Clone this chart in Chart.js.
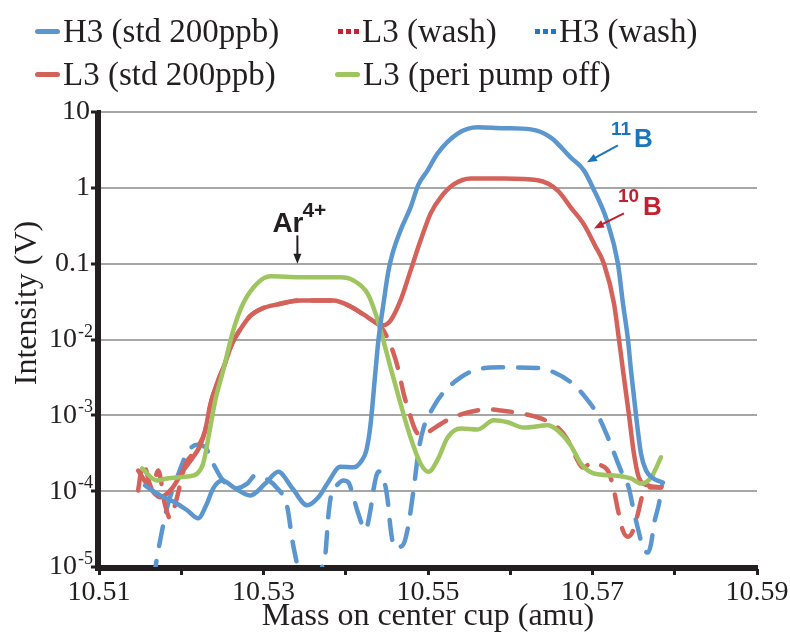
<!DOCTYPE html>
<html>
<head>
<meta charset="utf-8">
<script src="https://cdn.jsdelivr.net/npm/chart.js@4.4.1/dist/chart.umd.min.js"></script>
<style>
    html, body { margin: 0; padding: 0; background: #fff; }
    #wrap { position: relative; width: 790px; height: 635px; }
    #chart { position: absolute; left: 0; top: 0; }
    .leg { position: absolute; display: flex; align-items: center; height: 36px; white-space: nowrap;
           font-family: "Liberation Serif", serif; font-size: 33px; color: #231f20; }
    .leg .sw { width: 25px; height: 5px; border-radius: 3px; margin-right: 3px; }
</style>
</head>
<body>
<div id="wrap">
    <canvas id="chart" width="790" height="635"></canvas>
    <div id="legend"></div>
</div>
<script>
// Axes
const X_TICKS = [10.51, 10.52, 10.53, 10.54, 10.55, 10.56, 10.57, 10.58, 10.59];
const X_TICK_LABELS = ['10.51', '', '10.53', '', '10.55', '', '10.57', '', '10.59'];
const Y_TICKS = [10, 1, 0.1, 0.01, 0.001, 0.0001, 0.00001];
const Y_TICK_BASE = ['10', '1', '0.1', '10', '10', '10', '10'];
const Y_TICK_EXP = ['', '', '', '-2', '-3', '-4', '-5'];

// H3 (std 200ppb)
const H3_STD_MASS = [10.5156, 10.51743, 10.51926, 10.52072, 10.52206, 10.52303, 10.52389, 10.52498, 10.52656, 10.52839,
    10.53022, 10.5318, 10.53351, 10.53533, 10.53667, 10.53777, 10.53935, 10.54094, 10.54191, 10.54252,
    10.54301, 10.54362, 10.54398, 10.54459, 10.5452, 10.54569, 10.54666, 10.54788, 10.54885, 10.54995,
    10.55117, 10.55361, 10.55604, 10.55921, 10.5625, 10.56494, 10.56737, 10.56895, 10.57005, 10.57175,
    10.57309, 10.5737, 10.57431, 10.57468, 10.57529, 10.5759, 10.57651, 10.5774, 10.57857];
const H3_STD_V = [1.19e-4, 8.8e-5, 7.1e-5, 5.6e-5, 4.4e-5, 6.5e-5, 1.09e-4, 1.38e-4, 1.09e-4, 8.8e-5,
    1.26e-4, 1.8e-4, 1.09e-4, 6.5e-5, 8.3e-5, 1.26e-4, 2.1e-4, 2.06e-4, 2.5e-4, 3.5e-4,
    7.5e-4, 3.9e-3, 0.01, 0.03, 0.0817, 0.137, 0.275, 0.553, 1.11, 1.7,
    2.85, 5.2, 6.3, 6.1, 5.9, 4.6, 2.5, 1.7, 1.0, 0.372,
    0.1, 0.03, 0.01, 3.9e-3, 1.0e-3, 3.1e-4, 1.87e-4, 1.47e-4, 1.3e-4];

// L3 (std 200ppb)
const L3_STD_MASS = [10.51475, 10.51621, 10.51743, 10.51889, 10.52023, 10.52133, 10.5223, 10.52291, 10.52352, 10.52425,
    10.52523, 10.5262, 10.52718, 10.5284, 10.52986, 10.53168, 10.53448, 10.5385, 10.54057, 10.54216,
    10.54362, 10.54447, 10.54544, 10.54666, 10.54788, 10.5491, 10.55032, 10.55154, 10.55312, 10.55519,
    10.55921, 10.56335, 10.56578, 10.56737, 10.56895, 10.5703, 10.57139, 10.57261, 10.57322, 10.57371,
    10.57444, 10.57504, 10.57565, 10.57675, 10.57833];
const L3_STD_V = [1.87e-4, 1.09e-4, 8.3e-5, 1.09e-4, 1.87e-4, 2.7e-4, 4.0e-4, 6.3e-4, 1.35e-3, 2.48e-3,
    4.55e-3, 8.9e-3, 0.0136, 0.0205, 0.0257, 0.029, 0.0328, 0.0328, 0.0273, 0.0214,
    0.0168, 0.0154, 0.0178, 0.0328, 0.081, 0.203, 0.461, 0.75, 1.11, 1.33,
    1.33, 1.26, 0.92, 0.55, 0.33, 0.174, 0.1, 0.03, 0.01, 3.9e-3,
    1.0e-3, 3.1e-4, 1.5e-4, 1.19e-4, 1.12e-4];

// L3 (peri pump off)
const L3_OFF_MASS = [10.51524, 10.51706, 10.51828, 10.52072, 10.52194, 10.52267, 10.52352, 10.52413, 10.5251, 10.52632,
    10.52754, 10.52924, 10.53083, 10.53448, 10.53935, 10.54094, 10.54264, 10.54362, 10.54447, 10.54544,
    10.54666, 10.54788, 10.5491, 10.55007, 10.55117, 10.55239, 10.55397, 10.55604, 10.55799, 10.55969,
    10.56164, 10.56457, 10.56578, 10.56737, 10.56859, 10.57017, 10.57261, 10.57468, 10.57589, 10.57711,
    10.57833];
const L3_OFF_V = [1.99e-4, 1.38e-4, 1.47e-4, 1.56e-4, 1.71e-4, 2.32e-4, 6.9e-4, 1.57e-3, 3.9e-3, 0.0132,
    0.03, 0.055, 0.068, 0.066, 0.066, 0.06, 0.0406, 0.0221, 0.0107, 4.3e-3,
    1.43e-3, 5.1e-4, 2.3e-4, 1.8e-4, 2.6e-4, 5.1e-4, 6.7e-4, 6.5e-4, 8.6e-4, 8.1e-4,
    6.9e-4, 7.4e-4, 6.3e-4, 4.0e-4, 2.3e-4, 1.71e-4, 1.61e-4, 1.47e-4, 1.26e-4, 1.51e-4,
    2.8e-4];

// L3 (wash)
const L3_WASH_MASS = [10.51475, 10.51536, 10.51646, 10.51719, 10.51804, 10.51865, 10.51938, 10.52047, 10.52169, 10.52291,
    10.52352, 10.52425, 10.52523, 10.5262, 10.52718, 10.5284, 10.52986, 10.53168, 10.53448, 10.5385,
    10.54057, 10.54216, 10.54362, 10.54459, 10.54581, 10.54642, 10.54703, 10.54764, 10.54849, 10.54934,
    10.55032, 10.55275, 10.55482, 10.55726, 10.55884, 10.56128, 10.56372, 10.56578, 10.567, 10.56798,
    10.56883, 10.57005, 10.57102, 10.572, 10.57261, 10.5731, 10.57371, 10.57431, 10.57492, 10.57553,
    10.57614, 10.57687, 10.57833];
const L3_WASH_V = [1.02e-4, 2.3e-4, 1.09e-4, 1.87e-4, 6.5e-5, 4.4e-5, 7.5e-5, 2.2e-4, 3.4e-4, 6.3e-4,
    1.35e-3, 2.48e-3, 4.55e-3, 8.9e-3, 0.0136, 0.0205, 0.0257, 0.029, 0.0328, 0.0328,
    0.0273, 0.0214, 0.0168, 0.0132, 6.6e-3, 3.9e-3, 1.95e-3, 1.16e-3, 6.3e-4, 5.4e-4,
    6.3e-4, 9.1e-4, 1.09e-3, 1.2e-3, 1.16e-3, 1.06e-3, 9.1e-4, 6.9e-4, 4.7e-4, 2.8e-4,
    2.05e-4, 2.4e-4, 2.2e-4, 1.76e-4, 1.02e-4, 5.6e-5, 3.0e-5, 2.5e-5, 3.0e-5, 5.1e-5,
    9.3e-5, 1.12e-4, 1.12e-4];

// H3 (wash)
const H3_WASH_MASS = [10.51658, 10.51743, 10.51828, 10.5195, 10.52072, 10.52194, 10.52291, 10.52389, 10.5251, 10.52656,
    10.52803, 10.529, 10.53022, 10.53168, 10.5329, 10.53351, 10.53412, 10.53473, 10.53667, 10.53716,
    10.53753, 10.53789, 10.53826, 10.53899, 10.53972, 10.54033, 10.54082, 10.54144, 10.5424, 10.54301,
    10.54337, 10.54398, 10.54483, 10.5452, 10.54544, 10.54593, 10.54691, 10.54751, 10.54825, 10.54886,
    10.54947, 10.55056, 10.55178, 10.55397, 10.55555, 10.55884, 10.56335, 10.5653, 10.56761, 10.56895,
    10.57066, 10.57163, 10.57261, 10.57346, 10.57443, 10.57492, 10.57553, 10.57614, 10.57675, 10.57711,
    10.57748, 10.57809, 10.57845];
const H3_WASH_V = [6.6e-6, 2.23e-5, 6.1e-5, 1.52e-4, 3.2e-4, 4.1e-4, 3.8e-4, 2.3e-4, 1.38e-4, 1.09e-4,
    1.26e-4, 1.61e-4, 1.47e-4, 1.09e-4, 6.1e-5, 2.23e-5, 1.04e-5, 4.9e-6, 4.9e-6, 1.04e-5,
    1.5e-5, 4.8e-5, 9.3e-5, 1.22e-4, 1.38e-4, 1.3e-4, 9.3e-5, 5.4e-5, 3.1e-5, 5.7e-5,
    1.05e-4, 1.82e-4, 1.15e-4, 6.1e-5, 3.3e-5, 1.8e-5, 1.92e-5, 3.1e-5, 1.05e-4, 3.45e-4,
    6.9e-4, 1.23e-3, 1.95e-3, 3.16e-3, 3.9e-3, 4.3e-3, 4.2e-3, 3.7e-3, 2.6e-3, 1.83e-3,
    1.0e-3, 5.9e-4, 3.2e-4, 1.87e-4, 1.09e-4, 6.1e-5, 3.2e-5, 1.8e-5, 1.55e-5, 2.0e-5,
    3.7e-5, 6.9e-5, 1.19e-4];

const INK = '#231f20';
const BLUE = '#5b96cf';
const RED = '#d4625b';
const GREEN = '#9fc561';

function toPoints(mass, v) {
    return mass.map((m, i) => ({ x: m, y: v[i] }));
}

// Légende HTML (deux lignes comme sur la figure)
const legendItems = [
    { label: 'H3 (std 200ppb)', color: BLUE, dotted: false, left: 35, top: 13 },
    { label: 'L3 (wash)', color: '#c8202e', dotted: true, left: 338, top: 13 },
    { label: 'H3 (wash)', color: '#1f78c8', dotted: true, left: 535, top: 13 },
    { label: 'L3 (std 200ppb)', color: RED, dotted: false, left: 35, top: 56 },
    { label: 'L3 (peri pump off)', color: GREEN, dotted: false, left: 335, top: 56 },
];
const legendEl = document.getElementById('legend');
legendItems.forEach(it => {
    const d = document.createElement('div');
    d.className = 'leg';
    d.style.left = it.left + 'px';
    d.style.top = it.top + 'px';
    const sw = document.createElement('span');
    sw.className = 'sw';
    if (it.dotted) {
        sw.style.width = '21px';
        sw.style.borderRadius = '0';
        sw.style.background = `repeating-linear-gradient(90deg, ${it.color} 0 5px, transparent 5px 8px)`;
    } else {
        sw.style.background = it.color;
    }
    const tx = document.createElement('span');
    tx.textContent = it.label;
    d.appendChild(sw);
    d.appendChild(tx);
    legendEl.appendChild(d);
});

function arrow(ctx, x1, y1, x2, y2, color) {
    const a = Math.atan2(y2 - y1, x2 - x1);
    ctx.strokeStyle = color;
    ctx.fillStyle = color;
    ctx.lineWidth = 2;
    ctx.beginPath();
    ctx.moveTo(x1, y1);
    ctx.lineTo(x2 - 6 * Math.cos(a), y2 - 6 * Math.sin(a));
    ctx.stroke();
    ctx.beginPath();
    ctx.moveTo(x2, y2);
    ctx.lineTo(x2 - 10 * Math.cos(a) + 4 * Math.sin(a), y2 - 10 * Math.sin(a) - 4 * Math.cos(a));
    ctx.lineTo(x2 - 10 * Math.cos(a) - 4 * Math.sin(a), y2 - 10 * Math.sin(a) + 4 * Math.cos(a));
    ctx.closePath();
    ctx.fill();
}

const overlayPlugin = {
    id: 'overlay',
    afterDatasetsDraw(chart) {
        const { ctx, chartArea, scales: { x, y } } = chart;
        ctx.save();
        // axes redessinés par-dessus les courbes
        ctx.strokeStyle = INK;
        ctx.lineWidth = 4;
        ctx.beginPath();
        ctx.moveTo(chartArea.left - 2, chartArea.top);
        ctx.lineTo(chartArea.left - 2, chartArea.bottom + 4);
        ctx.moveTo(chartArea.left - 4, chartArea.bottom + 2);
        ctx.lineTo(chartArea.right, chartArea.bottom + 2);
        ctx.stroke();

        // étiquettes de l'axe Y avec exposants
        ctx.fillStyle = INK;
        Y_TICKS.forEach((v, i) => {
            const py = y.getPixelForValue(v);
            ctx.textAlign = 'right';
            if (!Y_TICK_EXP[i]) {
                ctx.font = '28px "Liberation Serif"';
                ctx.textBaseline = 'middle';
                ctx.fillText(Y_TICK_BASE[i], 90, py);
            } else {
                ctx.font = '18px "Liberation Serif"';
                ctx.textBaseline = 'alphabetic';
                const w = ctx.measureText(Y_TICK_EXP[i]).width;
                ctx.fillText(Y_TICK_EXP[i], 93, py - 3);
                ctx.font = '28px "Liberation Serif"';
                ctx.textBaseline = 'middle';
                ctx.fillText(Y_TICK_BASE[i], 92 - w, py);
            }
        });

        // titre de l'axe Y
        ctx.save();
        ctx.translate(28, 303);
        ctx.rotate(-Math.PI / 2);
        ctx.font = '32px "Liberation Serif"';
        ctx.textAlign = 'center';
        ctx.textBaseline = 'middle';
        ctx.fillText('Intensity (V)', 0, 0);
        ctx.restore();

        // annotations
        const arX = x.getPixelForValue(10.53412);
        const arY0 = y.getPixelForValue(0.236);
        const arY1 = y.getPixelForValue(0.1);
        arrow(ctx, arX, arY0, arX, arY1, INK);
        ctx.textAlign = 'left';
        ctx.textBaseline = 'alphabetic';
        ctx.fillStyle = INK;
        ctx.font = 'bold 28px "Liberation Sans"';
        ctx.fillText('Ar', arX - 25, arY0 - 3);
        ctx.font = 'bold 21px "Liberation Sans"';
        ctx.fillText('4+', arX + 5, arY0 - 18);

        const b11x0 = x.getPixelForValue(10.57309), b11y0 = y.getPixelForValue(3.64);
        const b11x1 = x.getPixelForValue(10.56932), b11y1 = y.getPixelForValue(2.17);
        arrow(ctx, b11x0, b11y0, b11x1, b11y1, '#1b75bb');
        ctx.font = 'bold 19px "Liberation Sans"';
        ctx.fillText('11', b11x0 - 7, b11y0 - 10);
        ctx.font = 'bold 26px "Liberation Sans"';
        ctx.fillText('B', b11x0 + 16, b11y0 + 2);

        const b10x0 = x.getPixelForValue(10.57382), b10y0 = y.getPixelForValue(0.461);
        const b10x1 = x.getPixelForValue(10.57017), b10y1 = y.getPixelForValue(0.292);
        arrow(ctx, b10x0, b10y0, b10x1, b10y1, '#c3202f');
        ctx.font = 'bold 19px "Liberation Sans"';
        ctx.fillText('10', b10x0 - 6, b10y0 - 11);
        ctx.font = 'bold 26px "Liberation Sans"';
        ctx.fillText('B', b10x0 + 19, b10y0 + 2);
        ctx.restore();
    }
};

new Chart(document.getElementById('chart').getContext('2d'), {
    type: 'line',
    data: {
        datasets: [
            { label: 'H3 (std 200ppb)', data: toPoints(H3_STD_MASS, H3_STD_V), borderColor: BLUE },
            { label: 'L3 (peri pump off)', data: toPoints(L3_OFF_MASS, L3_OFF_V), borderColor: GREEN },
            { label: 'L3 (std 200ppb)', data: toPoints(L3_STD_MASS, L3_STD_V), borderColor: RED },
            { label: 'L3 (wash)', data: toPoints(L3_WASH_MASS, L3_WASH_V), borderColor: RED, borderDash: [19, 15] },
            { label: 'H3 (wash)', data: toPoints(H3_WASH_MASS, H3_WASH_V), borderColor: BLUE, borderDash: [20, 15] },
        ]
    },
    options: {
        responsive: false,
        animation: false,
        clip: 0,
        layout: { padding: { left: 0, right: 33, top: 112, bottom: 0 } },
        plugins: {
            legend: { display: false },
            tooltip: { enabled: false }
        },
        elements: {
            point: { radius: 0 },
            line: { borderWidth: 4.5, cubicInterpolationMode: 'monotone', borderCapStyle: 'round', borderJoinStyle: 'round', fill: false }
        },
        scales: {
            x: {
                type: 'linear',
                min: 10.51,
                max: 10.59,
                afterBuildTicks: s => { s.ticks = X_TICKS.map(v => ({ value: v })); },
                afterFit: s => { s.height = 68; },
                grid: { drawOnChartArea: false, drawTicks: true, tickLength: 8, tickWidth: 3, tickColor: INK },
                border: { color: INK, width: 4 },
                ticks: {
                    autoSkip: false, maxRotation: 0, padding: 1, color: INK,
                    font: { family: 'Liberation Serif', size: 28 },
                    callback: (v, i) => X_TICK_LABELS[i]
                },
                title: {
                    display: true, text: 'Mass on center cup (amu)', color: INK,
                    font: { family: 'Liberation Serif', size: 32, lineHeight: 1 },
                    padding: { top: 0, bottom: 2 }
                }
            },
            y: {
                type: 'logarithmic',
                min: 1e-5,
                max: 10,
                afterBuildTicks: s => { s.ticks = Y_TICKS.map(v => ({ value: v })); },
                afterFit: s => { s.width = 99; },
                grid: { color: '#a6a6a6', lineWidth: 2, drawTicks: true, tickLength: 8, tickWidth: 3, tickColor: INK },
                border: { color: INK, width: 4 },
                ticks: { display: false }
            }
        }
    },
    plugins: [overlayPlugin]
});
</script>
</body>
</html>
